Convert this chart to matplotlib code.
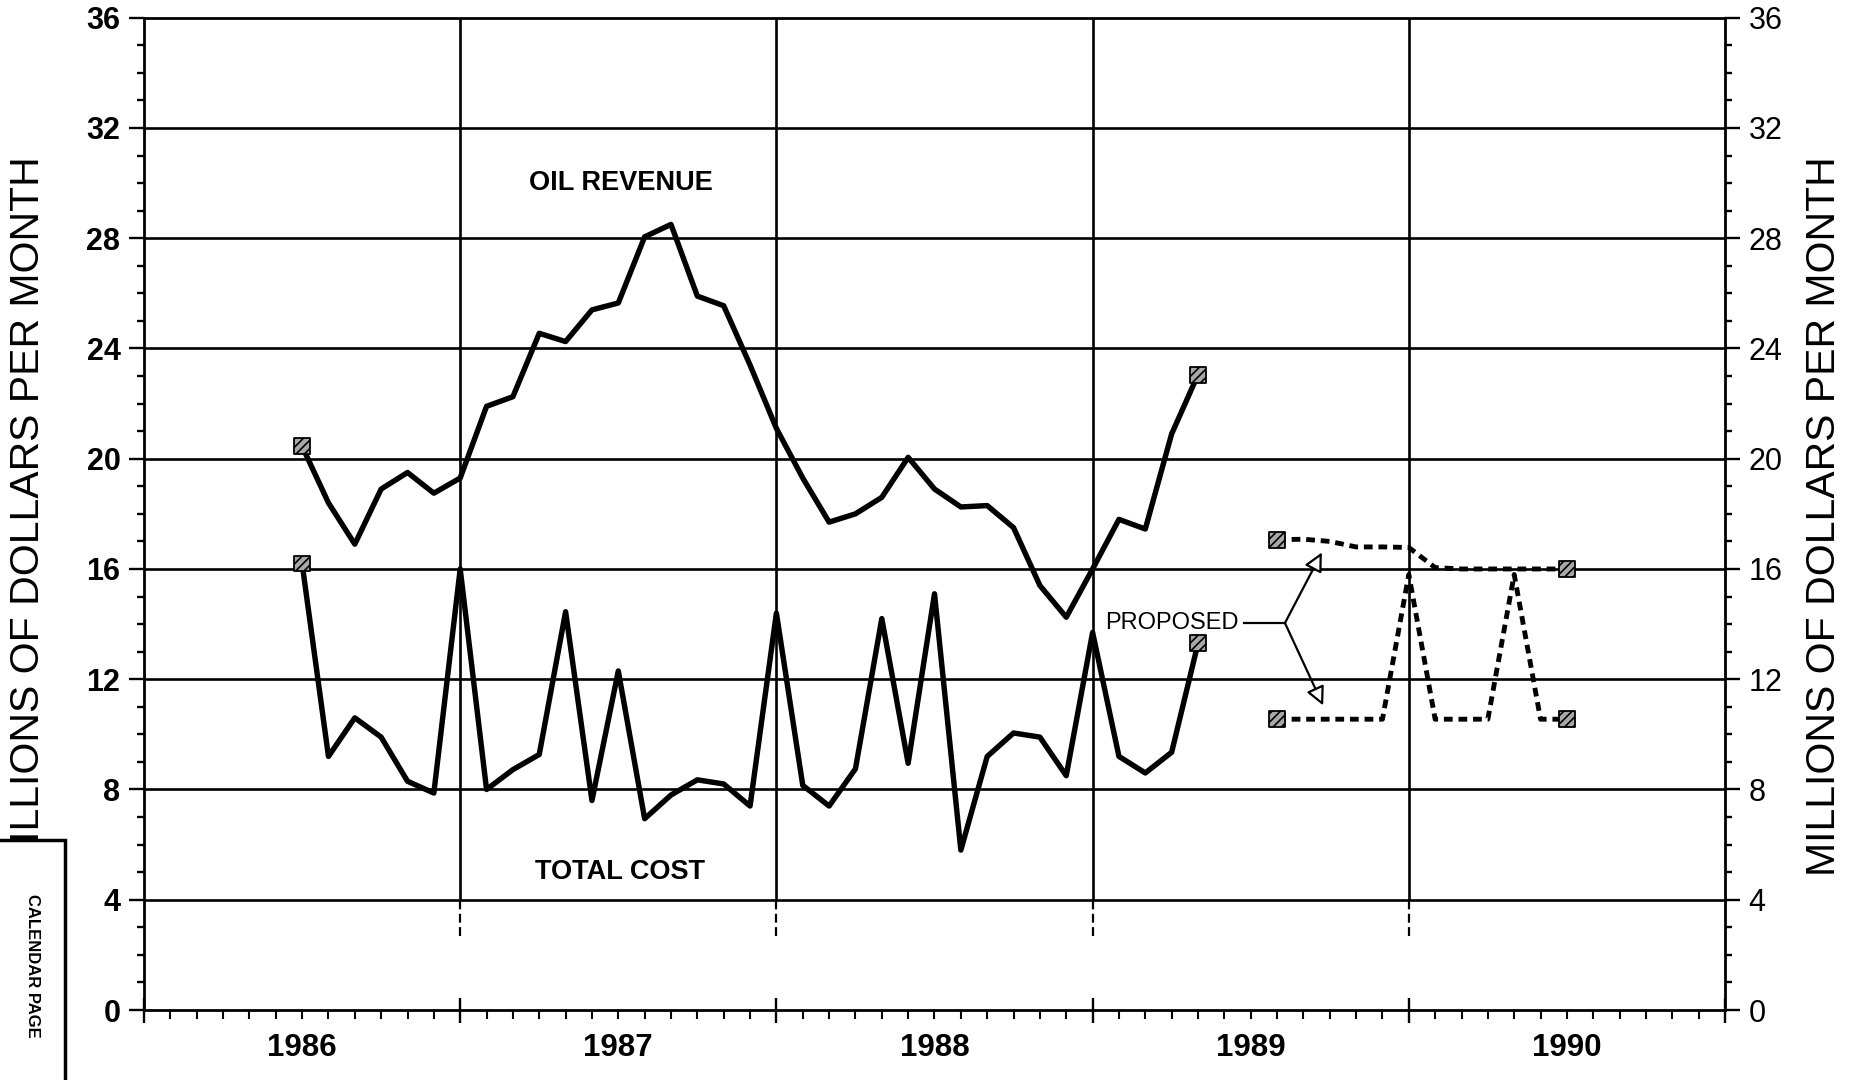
import matplotlib
matplotlib.use('Agg')
import matplotlib.pyplot as plt
from matplotlib.patches import Rectangle

plt.rcParams['font.family'] = ['Liberation Sans', 'DejaVu Sans']
plt.rcParams['hatch.linewidth'] = 1.2

# Data, millions of dollars per month. Month 0 = January 1986
years = [1986, 1987, 1988, 1989, 1990]

actual_start = 6   # July 1986
oil_revenue = [20.45, 18.4, 16.9, 18.9, 19.5, 18.75, 19.3, 21.9, 22.25, 24.55,
               24.25, 25.4, 25.65, 28.05, 28.5, 25.9, 25.55, 23.4, 21.1, 19.3,
               17.7, 18.0, 18.6, 20.05, 18.9, 18.25, 18.3, 17.5, 15.4, 14.25,
               16.0, 17.8, 17.45, 20.9, 23.05]
total_cost = [16.2, 9.2, 10.6, 9.9, 8.3, 7.87, 16.0, 8.0, 8.72, 9.27,
              14.45, 7.6, 12.3, 6.94, 7.8, 8.35, 8.2, 7.4, 14.4, 8.15,
              7.4, 8.75, 14.2, 8.95, 15.1, 5.8, 9.2, 10.05, 9.9, 8.5,
              13.7, 9.2, 8.6, 9.35, 13.3]

proposed_start = 43   # August 1989
proposed_revenue = [17.06, 17.08, 17.0, 16.8, 16.8, 16.78, 16.05, 16.0, 16.0, 16.0, 16.0, 16.0]
proposed_cost = [10.55, 10.55, 10.55, 10.55, 10.55, 15.8, 10.55, 10.55, 10.55, 15.8, 10.55, 10.55]

actual_months = list(range(actual_start, actual_start + len(oil_revenue)))
proposed_months = list(range(proposed_start, proposed_start + len(proposed_revenue)))
year_bounds = [12 * i for i in range(1, len(years))]


fig = plt.figure(figsize=(18.5, 10.8), dpi=100)
ax = fig.add_axes([144 / 1850, 1 - 1010 / 1080, (1725 - 144) / 1850, (1010 - 17.7) / 1080])
ax.set_xlim(0, 12 * len(years))
ax.set_ylim(0, 36)

# ========================================================================
# Grid: horizontal every 4, vertical at the start of each year
# ========================================================================
for v in range(4, 36, 4):
    ax.axhline(v, color='black', lw=1.9, zorder=1)
ax.vlines(year_bounds, 4, 36, color='black', lw=1.9, zorder=1)
ax.vlines(year_bounds, 2.7, 4, color='black', lw=1.6, linestyles=(0, (4, 2)), zorder=1)

# ========================================================================
# Actual and proposed series
# ========================================================================
ax.plot(actual_months, oil_revenue, color='black', lw=3.9, zorder=3)
ax.plot(actual_months, total_cost, color='black', lw=3.9, zorder=3)
ax.plot(proposed_months, proposed_revenue, color='black', lw=3.5, linestyle=(0, (1.8, 1.2)), zorder=3)
ax.plot(proposed_months, proposed_cost, color='black', lw=3.5, linestyle=(0, (1.8, 1.2)), zorder=3)

# Hatched square markers at the ends of each series
for months, values in [(actual_months, oil_revenue), (actual_months, total_cost),
                       (proposed_months, proposed_revenue), (proposed_months, proposed_cost)]:
    ax.scatter([months[0], months[-1]], [values[0], values[-1]], marker='s', s=130,
               facecolor='#a8a8a8', edgecolor='black', hatch='////', lw=1.3, zorder=5)

# Labels inside the plot
ax.text(18.1, 30.0, 'OIL REVENUE', ha='center', va='center', fontsize=19.5, fontweight='bold')
ax.text(18.05, 5.0, 'TOTAL COST', ha='center', va='center', fontsize=19.5, fontweight='bold')
ax.text(41.55, 14.04, 'PROPOSED', ha='right', va='center', fontsize=17)
ax.plot([41.75, 43.3], [14.04, 14.04], color='black', lw=1.6)
for tip in [(44.7, 16.6), (44.75, 11.05)]:
    ax.annotate('', xy=tip, xytext=(43.3, 14.04),
                arrowprops=dict(arrowstyle='-|>', fc='white', ec='black', lw=1.6,
                                mutation_scale=28, shrinkA=0, shrinkB=0))

# ========================================================================
# Axes, ticks and tick labels
# ========================================================================
for side in ['left', 'right', 'top', 'bottom']:
    ax.spines[side].set_linewidth(2.0)

ax.set_yticks(range(0, 37, 4))
ax.set_yticks(range(0, 37), minor=True)
ax.tick_params(axis='y', which='both', direction='out', left=True, right=True,
               labelleft=True, labelright=True, width=1.7)
ax.tick_params(axis='y', which='major', length=11, labelsize=22, pad=6)
ax.tick_params(axis='y', which='minor', length=5)
for t in ax.yaxis.get_major_ticks():
    t.label1.set_fontweight('bold')

ax.set_xticks(range(0, 12 * len(years) + 1, 12))
ax.set_xticks(range(0, 12 * len(years) + 1), minor=True)
ax.tick_params(axis='x', which='major', direction='inout', length=18, width=1.7, labelbottom=False)
ax.tick_params(axis='x', which='minor', direction='out', length=6.5, width=1.5)

for i, yr in enumerate(years):
    ax.annotate(str(yr), xy=(12 * i + 6, 0), xycoords=('data', 'axes fraction'),
                xytext=(0, -27), textcoords='offset points',
                ha='center', va='center', fontsize=22.5, fontweight='bold')

fig.text(28 / 1850, 1 - 516 / 1080, 'MILLIONS OF DOLLARS PER MONTH', rotation=90,
         ha='center', va='center', fontsize=29.5)
fig.text(1824 / 1850, 1 - 516 / 1080, 'MILLIONS OF DOLLARS PER MONTH', rotation=90,
         ha='center', va='center', fontsize=29.5)

# Stamp box in the lower left corner of the scanned page
fig.add_artist(Rectangle((-0.01, -0.01), 65 / 1850 + 0.01, (1080 - 840) / 1080 + 0.01,
                         transform=fig.transFigure, facecolor='white', edgecolor='black',
                         lw=2.5, zorder=10))
fig.text(32 / 1850, 1 - 966 / 1080, 'CALENDAR PAGE', rotation=-90, ha='center', va='center',
         fontsize=12, fontweight='bold', zorder=11)

plt.savefig('out.png', dpi=100)
